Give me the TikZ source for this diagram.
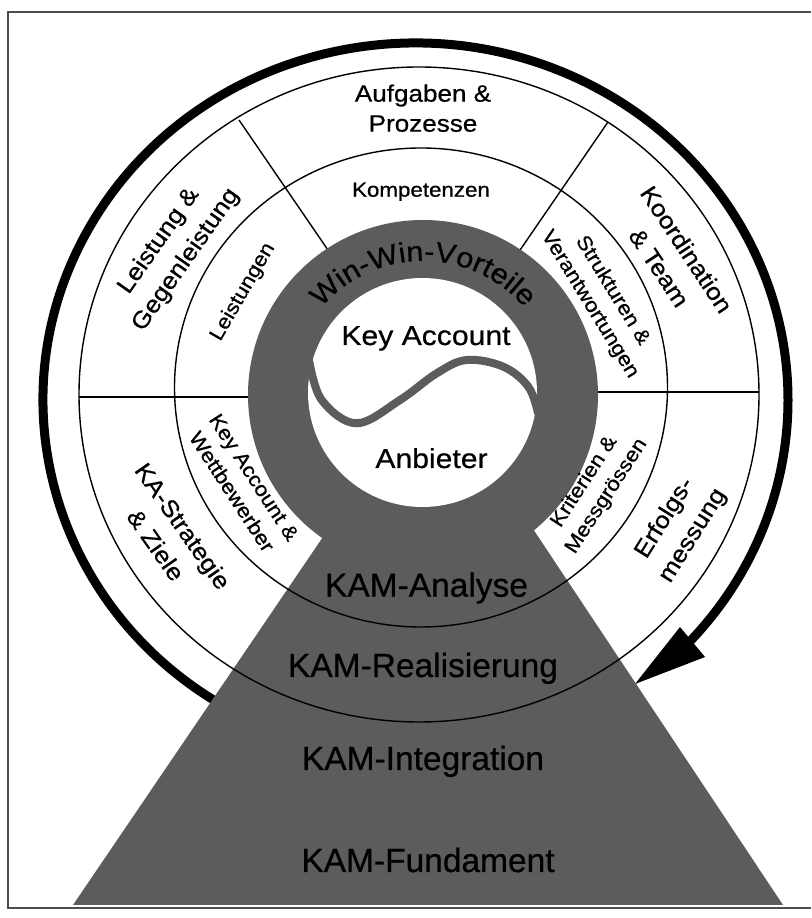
\documentclass[tikz,border=0pt]{standalone}
\usepackage{fontspec}
\setmainfont{Liberation Sans}[FakeBold=0.6]
\newfontfamily\widefont{Liberation Sans}[FakeStretch=1.1, FakeBold=0.6]
\usetikzlibrary{decorations.text}
\definecolor{kamgray}{gray}{0.36}
\begin{document}
\begin{tikzpicture}[x=1pt,y=1pt,
  thinline/.style={line width=1.4pt},
  outerlbl/.style={font=\widefont\fontsize{23.7}{33}\selectfont, align=center, inner sep=0pt},
  innerlbl/.style={font=\widefont\fontsize{20.3}{26.5}\selectfont, align=center, inner sep=0pt},
  centerlbl/.style={font=\widefont\fontsize{27.4}{30}\selectfont, inner sep=0pt},
  kamlbl/.style={font=\fontsize{33.5}{36}\selectfont, inner sep=0pt},
]
\useasboundingbox (0,0) rectangle (811,918);
\fill[white] (0,0) rectangle (811,918);
% frame
\draw[line width=1.2pt, black!70] (811,906) -- (8,906) -- (8,10) -- (811,10);

% centres
\coordinate (thc) at (415.5,518);
\coordinate (oc) at (419,523.5);
\coordinate (mc) at (421,530.5);
\coordinate (rc) at (423,523);
\coordinate (wc) at (422.5,525.5);

% thick circular arrow
\draw[line width=9pt] (thc) ++(240:372.5 and 357) arc[start angle=240, end angle=-44, x radius=372.5, y radius=357];
\coordinate (ah1) at (680,291);
\coordinate (ah2) at (705,261);
\coordinate (ahtip) at (635,234);
\fill (ah1) -- (ah2) -- (ahtip) -- cycle;

% sector dividers
\coordinate (dl1) at (79,521);  \coordinate (dl2) at (256,521);
\coordinate (dr1) at (590,526); \coordinate (dr2) at (759,526);
\coordinate (dul1) at (330,665); \coordinate (dul2) at (239,798);
\coordinate (dur1) at (518,665); \coordinate (dur2) at (608,796);
\draw[thinline] (dl1) -- (dl2);
\draw[thinline] (dr1) -- (dr2);
\draw[thinline] (dul1) -- (dul2);
\draw[thinline] (dur1) -- (dur2);

% pyramid and ring
\coordinate (pyrL) at (73,13);
\coordinate (pyrR) at (783,13);
\coordinate (apex) at (431.8,541.3);
\fill[kamgray] (pyrL) -- (apex) -- (pyrR) -- cycle;
\fill[kamgray] (rc) circle[radius=175];

% thin rings
\draw[thinline] (oc) ellipse[x radius=340, y radius=327.5];
\draw[thinline] (mc) ellipse[x radius=246.5, y radius=239.5];

% inner white disc with S-curve
\fill[white] (wc) circle[radius=114.5];
\draw[kamgray, line width=8pt, line cap=round] plot[smooth, tension=0.6] coordinates {(309,558) (321.7,518) (356.7,494.7) (400,518) (436.7,544.7) (466.7,558) (503.3,551.3) (528.3,531.3) (538,505)};

% curved text
\path[decorate, decoration={text along path, text align=center,
  text={|\widefont\fontsize{28}{28}\selectfont|Win-Win-Vorteile}}]
  (rc) ++(175:134) arc[start angle=175, end angle=5, radius=134];

% labels
\node[outerlbl, font=\widefont\fontsize{23.7}{30}\selectfont] (aufg) at (423,809.8) {Aufgaben \&\\Prozesse};
\node[innerlbl, anchor=base] (komp) at (421,721.3) {Kompetenzen};
\node[outerlbl, rotate=55] (leist) at (172.5,667.5) {Leistung \&\\Gegenleistung};
\node[innerlbl, rotate=60] (leistg) at (243,626) {Leistungen};
\node[outerlbl, rotate=-56.5] (koord) at (673,659.5) {Koordination\\\& Team};
\node[innerlbl, rotate=-58.5] (strukt) at (601,620.5) {Strukturen \&\\Verantwortungen};
\node[innerlbl, rotate=-57] (kawb) at (243,433.5) {Key Account \&\\Wettbewerber};
\node[outerlbl, rotate=-55] (kastr) at (169.5,382.5) {KA-Strategie\\\& Ziele};
\node[innerlbl, rotate=57] (krit) at (595.5,429) {Kriterien \&\\Messgrössen};
\node[outerlbl, rotate=58] (erfolg) at (679,391) {Erfolgs-\\messung};
\node[centerlbl, anchor=base] (kacc) at (426,573) {Key Account};
\node[centerlbl, anchor=base] (anb) at (431.5,450) {Anbieter};
\node[kamlbl, anchor=base] (kam1) at (426.5,321.3) {KAM-Analyse};
\node[kamlbl, anchor=base] (kam2) at (423,241) {KAM-Realisierung};
\node[kamlbl, anchor=base] (kam3) at (423,148) {KAM-Integration};
\node[kamlbl, anchor=base] (kam4) at (428,46) {KAM-Fundament};
\end{tikzpicture}
\end{document}
